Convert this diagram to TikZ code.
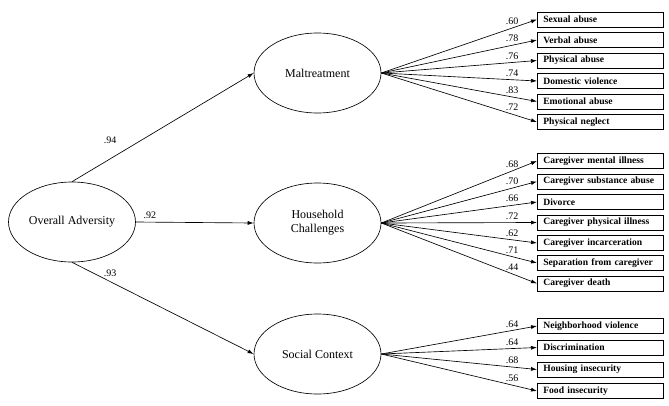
\documentclass[tikz,border=0pt]{standalone}
\usepackage{fontspec}
\setmainfont{Liberation Serif}
\usetikzlibrary{shapes.geometric,arrows.meta}
\tikzset{
  latent/.style={ellipse,draw,minimum width=127pt,minimum height=80pt,
    inner sep=0pt,align=center,font=\fontsize{12}{14}\selectfont},
  item/.style={rectangle,draw,anchor=west,text width=114pt,inner xsep=6pt,
    inner ysep=0pt,minimum height=15pt,font=\fontsize{9.6}{10}\selectfont\bfseries},
  load/.style={font=\fontsize{10}{11}\selectfont,inner sep=1pt},
}
\begin{document}
\begin{tikzpicture}[x=1pt,y=-1pt,line width=0.65pt]
      \useasboundingbox (0,0) rectangle (669,405);
      \draw
        (72,222) node[latent] (adv){Overall Adversity}
        (317.5,73) node[latent] (mal){Maltreatment}
        (317.5,223) node[latent] (hh){Household\\Challenges}
        (317.5,354) node[latent] (soc){Social Context}
        (537,19.5) node[item] (m1){Sexual abuse}
        (537,40) node[item] (m2){Verbal abuse}
        (537,60.5) node[item] (m3){Physical abuse}
        (537,81) node[item] (m4){Domestic violence}
        (537,101.5) node[item] (m5){Emotional abuse}
        (537,122) node[item] (m6){Physical neglect}
        (537,161) node[item] (h1){Caregiver mental illness}
        (537,181.5) node[item] (h2){Caregiver substance abuse}
        (537,202) node[item] (h3){Divorce}
        (537,222.5) node[item] (h4){Caregiver physical illness}
        (537,243) node[item] (h5){Caregiver incarceration}
        (537,263) node[item] (h6){Separation from caregiver}
        (537,283.5) node[item] (h7){Caregiver death}
        (537,326) node[item] (s1){Neighborhood violence}
        (537,347.5) node[item] (s2){Discrimination}
        (537,369.5) node[item] (s3){Housing insecurity}
        (537,391) node[item] (s4){Food insecurity};
      \begin{scope}[-{Latex[length=6pt,width=4pt]}]
        \draw (adv.north) to node[load,pos=0.21,above=14pt] {.94} (mal.west);
        \draw (adv.east) to node[load,pos=0.12,above=2pt] {.92} (hh.west);
        \draw (adv.south) to node[load,pos=0.21,above=4pt] {.93} (soc.west);
        \draw (mal.east) to node[load,pos=0.84,above=2pt] {.60} (m1.west);
        \draw (mal.east) to node[load,pos=0.84,above=2pt] {.78} (m2.west);
        \draw (mal.east) to node[load,pos=0.84,above=2pt] {.76} (m3.west);
        \draw (mal.east) to node[load,pos=0.84,above=2pt] {.74} (m4.west);
        \draw (mal.east) to node[load,pos=0.84,above=2pt] {.83} (m5.west);
        \draw (mal.east) to node[load,pos=0.84,above=2pt] {.72} (m6.west);
        \draw (hh.east) to node[load,pos=0.84,above=2pt] {.68} (h1.west);
        \draw (hh.east) to node[load,pos=0.84,above=2pt] {.70} (h2.west);
        \draw (hh.east) to node[load,pos=0.84,above=2pt] {.66} (h3.west);
        \draw (hh.east) to node[load,pos=0.84,above=2pt] {.72} (h4.west);
        \draw (hh.east) to node[load,pos=0.84,above=2pt] {.62} (h5.west);
        \draw (hh.east) to node[load,pos=0.84,above=2pt] {.71} (h6.west);
        \draw (hh.east) to node[load,pos=0.84,above=2pt] {.44} (h7.west);
        \draw (soc.east) to node[load,pos=0.84,above=2pt] {.64} (s1.west);
        \draw (soc.east) to node[load,pos=0.84,above=2pt] {.64} (s2.west);
        \draw (soc.east) to node[load,pos=0.84,above=2pt] {.68} (s3.west);
        \draw (soc.east) to node[load,pos=0.84,above=2pt] {.56} (s4.west);
      \end{scope}
    \end{tikzpicture}
\end{document}
